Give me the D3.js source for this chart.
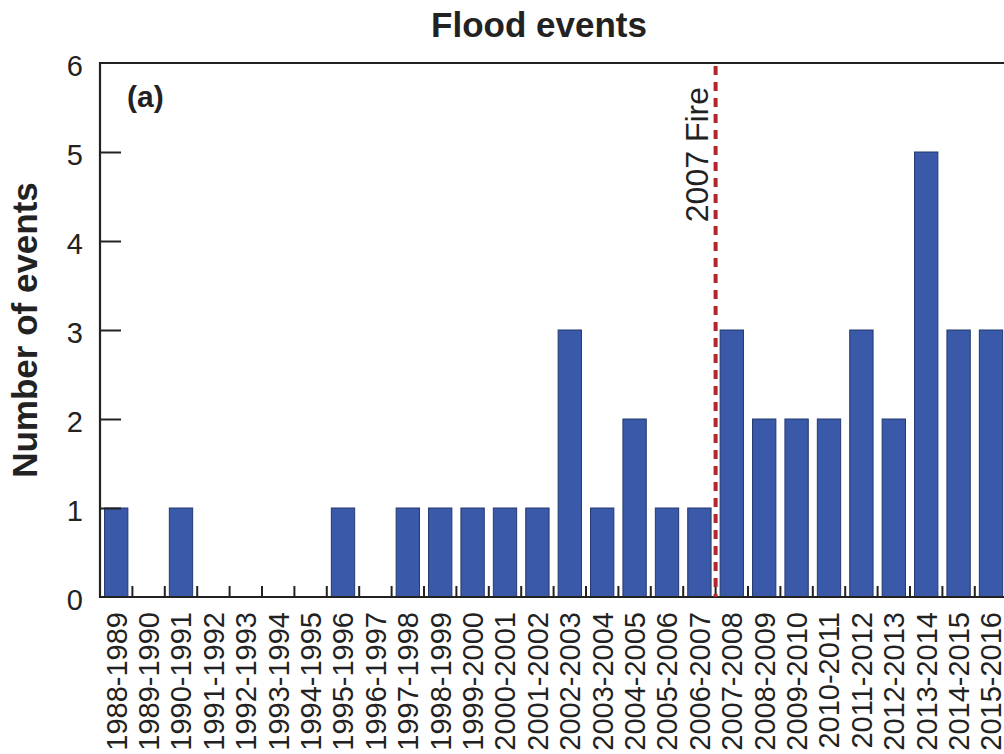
<!DOCTYPE html>
<html>
<head>
<meta charset="utf-8">
<script src="https://cdn.jsdelivr.net/npm/d3@7"></script>
<style>
  body { margin: 0; background: #fff; }
  svg { display: block; font-family: "Liberation Sans", Arial, sans-serif; }
</style>
</head>
<body>
<svg id="chart" width="1004" height="754"></svg>
<script>
// flood season categories and counts
var seasons = ["1988-1989","1989-1990","1990-1991","1991-1992","1992-1993","1993-1994","1994-1995",
  "1995-1996","1996-1997","1997-1998","1998-1999","1999-2000","2000-2001","2001-2002","2002-2003",
  "2003-2004","2004-2005","2005-2006","2006-2007","2007-2008","2008-2009","2009-2010","2010-2011",
  "2011-2012","2012-2013","2013-2014","2014-2015","2015-2016"];
var floodCounts = [1,0,1,0,0,0,0,1,0,1,1,1,1,1,3,1,2,1,1,3,2,2,2,3,2,5,3,3];
var yTicks = [0,1,2,3,4,5,6];
var fireAfter = "2006-2007"; // fire line sits after this season

var margin = {top: 63, left: 100, bottom: 157};
var svg = d3.select("#chart");
var height = 754 - margin.top - margin.bottom;

var x = d3.scaleBand()
    .domain(seasons)
    .range([margin.left, margin.left + 28 * 32.4])
    .paddingInner(0.28)
    .paddingOuter(0.14);
var y = d3.scaleLinear().domain([0, 6]).range([margin.top + height, margin.top]);

function boundary(d) { return x(d) + x.bandwidth() / 2 - x.step() / 2; }

// bars
svg.append("g").selectAll("rect")
  .data(floodCounts)
  .join("rect")
    .attr("x", function (d, i) { return x(seasons[i]); })
    .attr("y", function (d) { return y(d); })
    .attr("width", x.bandwidth())
    .attr("height", function (d) { return y(0) - y(d); })
    .attr("fill", "#3a5aa9")
    .attr("stroke", "#23386d")
    .attr("stroke-width", 1);

// frame (left, top, bottom)
var x0 = x.range()[0], x1 = x.range()[1];
svg.append("path")
  .attr("d", "M" + (x1 + 5) + "," + y(6) + "H" + x0 + "V" + y(0) + "H" + (x1 + 5))
  .attr("fill", "none")
  .attr("stroke", "#222")
  .attr("stroke-width", 2.2);

// y axis, ticks pointing inward
var yAxis = d3.axisLeft(y).tickValues(yTicks).tickFormat(d3.format("d"))
  .tickSizeInner(-21).tickSizeOuter(0).tickPadding(17);
var gy = svg.append("g")
  .attr("transform", "translate(" + x0 + ",0)")
  .call(yAxis);
gy.select(".domain").remove();
gy.selectAll(".tick line").attr("stroke", "#222").attr("stroke-width", 2)
  .filter(function (d) { return d === 0 || d === 6; }).remove();
gy.selectAll(".tick text")
  .attr("font-size", 29)
  .attr("fill", "#222")
  .attr("dy", "0.42em");

// x ticks at season boundaries, pointing up
svg.append("g").selectAll("line")
  .data(seasons.slice(1))
  .join("line")
    .attr("x1", boundary).attr("x2", boundary)
    .attr("y1", y(0)).attr("y2", y(0) - 11)
    .attr("stroke", "#222")
    .attr("stroke-width", 2);

// x labels
var xAxis = d3.axisBottom(x).tickSize(0).tickPadding(0);
var gx = svg.append("g")
  .attr("transform", "translate(0," + y(0) + ")")
  .call(xAxis);
gx.select(".domain").remove();
gx.selectAll(".tick text")
  .attr("transform", "rotate(-90)")
  .attr("text-anchor", "end")
  .attr("x", -15)
  .attr("y", 0)
  .attr("dy", "0.36em")
  .attr("font-size", 29)
  .attr("fill", "#222");

// 2007 fire marker
var fx = boundary(seasons[seasons.indexOf(fireAfter) + 1]);
svg.append("line")
  .attr("x1", fx).attr("x2", fx)
  .attr("y1", y(6) + 3).attr("y2", y(0))
  .attr("stroke", "#b3262b")
  .attr("stroke-width", 4)
  .attr("stroke-dasharray", "9,7");
svg.append("text")
  .attr("transform", "translate(" + (fx - 8) + "," + (y(6) + 24) + ") rotate(-90)")
  .attr("text-anchor", "end")
  .attr("font-size", 32)
  .attr("fill", "#222")
  .text("2007 Fire");

// panel tag
svg.append("text")
  .attr("x", x0 + 27).attr("y", y(6) + 44)
  .attr("font-size", 30)
  .attr("font-weight", "bold")
  .attr("fill", "#222")
  .text("(a)");

// title
svg.append("text")
  .attr("x", 539).attr("y", 37)
  .attr("text-anchor", "middle")
  .attr("font-size", 35)
  .attr("font-weight", "bold")
  .attr("fill", "#222")
  .text("Flood events");

// y label
svg.append("text")
  .attr("transform", "translate(37," + ((y(0) + y(6)) / 2) + ") rotate(-90)")
  .attr("text-anchor", "middle")
  .attr("font-size", 35)
  .attr("font-weight", "bold")
  .attr("fill", "#222")
  .text("Number of events");
</script>
</body>
</html>
